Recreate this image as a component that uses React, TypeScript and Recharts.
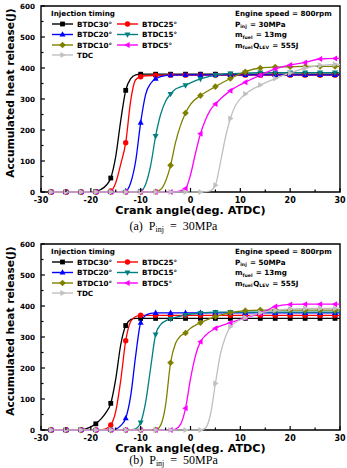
import React from 'react';
import { LineChart, Line, XAxis, YAxis, ReferenceArea, Legend, Label } from 'recharts';

type Pt = [number, number];

// Crank angle (deg. ATDC) vs accumulated heat release (J), injection pressure 30 MPa
const p30Btdc30: Pt[] = [[-28,0],[-25,0],[-22,0],[-20,1],[-19,2],[-18,8],[-17,20],[-16,45],[-15,115],[-14,230],[-13,328],[-12,366],[-11,378],[-10,380],[-7,380],[-4,380],[-1,380],[2,380],[5,380],[8,380],[11,380],[14,380],[17,380],[20,380],[23,380],[26,380],[29,380],[30,380]];
const p30Btdc25: Pt[] = [[-28,0],[-25,0],[-22,0],[-19,0],[-17,1],[-16,3],[-15,30],[-14,90],[-13,159],[-12,295],[-11,362],[-10,372],[-9,375],[-7,376],[-4,377],[-1,377],[2,377],[5,377],[8,377],[11,377],[14,377],[17,377],[20,377],[23,377],[26,377],[29,377],[30,377]];
const p30Btdc20: Pt[] = [[-28,0],[-25,0],[-22,0],[-19,0],[-16,0],[-14,1],[-13,3],[-12,30],[-11,100],[-10,224],[-9,315],[-8,350],[-7,366],[-6,372],[-4,377],[-1,378],[2,378],[5,378],[8,378],[11,378],[14,378],[17,378],[20,378],[23,378],[26,378],[29,378],[30,378]];
const p30Btdc15: Pt[] = [[-28,0],[-25,0],[-22,0],[-19,0],[-16,0],[-13,0],[-11,1],[-10,3],[-9,25],[-8,85],[-7,180],[-6,250],[-5,293],[-4,316],[-3,332],[-2,339],[-1,344],[0,352],[2,365],[5,377],[8,382],[11,384],[14,385],[17,385],[20,385],[23,385],[26,385],[29,385],[30,385]];
const p30Btdc10: Pt[] = [[-28,0],[-25,0],[-22,0],[-19,0],[-16,0],[-13,0],[-10,0],[-7,1],[-6,8],[-5,35],[-4,86],[-3,160],[-2,215],[-1,255],[0,283],[2,311],[5,340],[8,366],[11,388],[14,400],[17,403],[20,404],[23,405],[26,405],[29,405],[30,405]];
const p30Btdc5: Pt[] = [[-28,0],[-25,0],[-22,0],[-19,0],[-16,0],[-13,0],[-10,0],[-7,0],[-4,0],[-3,1],[-2,4],[-1,11],[0,55],[1,125],[2,188],[3,232],[4,265],[5,284],[8,327],[11,354],[14,377],[17,397],[20,410],[23,418],[26,429],[29,431],[30,431]];
const p30Tdc: Pt[] = [[-28,0],[-25,0],[-22,0],[-19,0],[-16,0],[-13,0],[-10,0],[-7,0],[-4,0],[-1,0],[2,0],[3,1],[4,4],[5,22],[6,95],[7,175],[8,237],[9,278],[10,301],[11,316],[14,345],[17,366],[20,384],[23,400],[26,408],[29,412],[30,412]];

// Same quantities, injection pressure 50 MPa
const p50Btdc30: Pt[] = [[-28,0],[-25,0],[-22,1],[-21,4],[-20,10],[-19,20],[-18,35],[-17,55],[-16,86],[-15,165],[-14,275],[-13,337],[-12,356],[-11,360],[-10,360],[-7,360],[-4,360],[-1,360],[2,360],[5,360],[8,360],[11,360],[14,360],[17,360],[20,360],[23,360],[26,360],[29,360],[30,360]];
const p50Btdc25: Pt[] = [[-28,0],[-25,0],[-22,0],[-19,0],[-18,1],[-17,4],[-16,16],[-15,60],[-14,160],[-13,288],[-12,350],[-11,366],[-10,370],[-7,370],[-4,370],[-1,370],[2,370],[5,370],[8,370],[11,370],[14,370],[17,370],[20,370],[23,370],[26,370],[29,370],[30,370]];
const p50Btdc20: Pt[] = [[-28,0],[-25,0],[-22,0],[-19,0],[-16,0],[-15,3],[-14,14],[-13,38],[-12,110],[-11,240],[-10,346],[-9,370],[-8,376],[-7,378],[-4,378],[-1,378],[2,378],[5,378],[8,378],[11,378],[14,378],[17,378],[20,378],[23,378],[26,378],[29,378],[30,378]];
const p50Btdc15: Pt[] = [[-28,0],[-25,0],[-22,0],[-19,0],[-16,0],[-13,0],[-12,1],[-11,4],[-10,24],[-9,90],[-8,200],[-7,308],[-6,340],[-5,352],[-4,358],[-3,363],[-1,371],[2,377],[5,380],[8,380],[11,380],[14,380],[17,380],[20,380],[23,380],[26,380],[29,380],[30,380]];
const p50Btdc10: Pt[] = [[-28,0],[-25,0],[-22,0],[-19,0],[-16,0],[-13,0],[-10,0],[-7,1],[-6,15],[-5,80],[-4,217],[-3,280],[-2,303],[-1,313],[0,328],[2,346],[5,366],[8,378],[11,385],[14,387],[17,387],[20,387],[23,387],[26,387],[29,387],[30,387]];
const p50Btdc5: Pt[] = [[-28,0],[-25,0],[-22,0],[-19,0],[-16,0],[-13,0],[-10,0],[-7,0],[-4,0],[-3,3],[-2,18],[-1,70],[0,165],[1,240],[2,285],[3,305],[5,328],[8,346],[11,362],[14,376],[17,398],[20,405],[23,406],[26,406],[29,406],[30,406]];
const p50Tdc: Pt[] = [[-28,0],[-25,0],[-22,0],[-19,0],[-16,0],[-13,0],[-10,0],[-7,0],[-4,0],[-1,0],[2,0],[3,6],[4,50],[5,150],[6,245],[7,300],[8,333],[9,347],[11,362],[14,378],[17,386],[20,390],[23,392],[26,392],[29,392],[30,392]];

const seriesNames = ['BTDC30°', 'BTDC25°', 'BTDC20°', 'BTDC15°', 'BTDC10°', 'BTDC5°', 'TDC'];
const seriesColors = ['#000000', '#ff0000', '#0000ff', '#008080', '#808000', '#ff00ff', '#c0c0c0'];
const seriesMarkers = ['square', 'circle', 'up', 'down', 'diamond', 'left', 'right'];

const xTicks = [-30, -25, -20, -15, -10, -5, 0, 5, 10, 15, 20, 25, 30];
const yTicks = [0, 50, 100, 150, 200, 250, 300, 350, 400, 450, 500, 550, 600];

// symbols are drawn every 3 degrees, starting at -28
const MARK_START = -28;
const MARK_STEP = 3;

const BOLD = 'DejaVu Sans';

function Marker({ kind, cx, cy, color }: { kind: string; cx: number; cy: number; color: string }) {
  switch (kind) {
    case 'square':
      return <rect x={cx - 2.4} y={cy - 2.4} width={4.8} height={4.8} fill={color} />;
    case 'circle':
      return <circle cx={cx} cy={cy} r={2.7} fill={color} />;
    case 'up':
      return <polygon points={`${cx},${cy - 3.3} ${cx - 3},${cy + 2.1} ${cx + 3},${cy + 2.1}`} fill={color} />;
    case 'down':
      return <polygon points={`${cx},${cy + 3.3} ${cx - 3},${cy - 2.1} ${cx + 3},${cy - 2.1}`} fill={color} />;
    case 'diamond':
      return <polygon points={`${cx},${cy - 3.3} ${cx + 3.3},${cy} ${cx},${cy + 3.3} ${cx - 3.3},${cy}`} fill={color} />;
    case 'left':
      return <polygon points={`${cx - 3.3},${cy} ${cx + 2.1},${cy - 3} ${cx + 2.1},${cy + 3}`} fill={color} />;
    default:
      return <polygon points={`${cx + 3.3},${cy} ${cx - 2.1},${cy - 3} ${cx - 2.1},${cy + 3}`} fill={color} />;
  }
}

const XTick = (props: any) => {
  const { x, y, payload } = props;
  const v = payload.value as number;
  const major = v % 10 === 0;
  return (
    <g>
      <line x1={x} x2={x} y1={y} y2={y - (major ? 4 : 2.5)} stroke="#000" strokeWidth={1.2} />
      {major && (
        <text x={x} y={y + 11} textAnchor="middle" fontSize={8} fontWeight="bold" fontFamily={BOLD} fill="#000">
          {v}
        </text>
      )}
    </g>
  );
};

const YTick = (props: any) => {
  const { x, y, payload } = props;
  const v = payload.value as number;
  const major = v % 100 === 0;
  return (
    <g>
      <line x1={x} x2={x + (major ? 4 : 2.5)} y1={y} y2={y} stroke="#000" strokeWidth={1.2} />
      {major && (
        <text x={x - 6} y={y + 2.6} textAnchor="end" fontSize={7.2} fontWeight="bold" fontFamily={BOLD} fill="#000">
          {v}
        </text>
      )}
    </g>
  );
};

const sub = (t: string) => (
  <>
    <tspan dy={1.8} fontSize={4.6}>{t}</tspan>
    <tspan dy={-1.8}>{'\u200a'}</tspan>
  </>
);

const makeLegend = (pressure: string) => (props: any) => {
  const payload: any[] = props.payload || [];
  const rowY = [24, 34.5, 45, 55];
  const fs = 7.2;
  return (
    <svg width={347} height={70} style={{ display: 'block', overflow: 'visible' }}>
      <text x={51} y={16.3} fontSize={fs} fontWeight="bold" fontFamily={BOLD}>Injection timing</text>
      {payload.map((e: any) => {
        const i = seriesNames.indexOf(e.value);
        if (i < 0) return null;
        const col = i % 2;
        const y = rowY[Math.floor(i / 2)];
        const x0 = col === 0 ? 52 : 117;
        return (
          <g key={e.value}>
            <line x1={x0} x2={x0 + 21} y1={y} y2={y} stroke={seriesColors[i]} strokeWidth={1.4} />
            <Marker kind={seriesMarkers[i]} cx={x0 + 10.5} cy={y} color={seriesColors[i]} />
            <text x={x0 + 25} y={y + 2.6} fontSize={fs} fontWeight="bold" fontFamily={BOLD}>{e.value}</text>
          </g>
        );
      })}
      <g fontSize={fs} fontWeight="bold" fontFamily={BOLD}>
        <text x={235} y={16.3}>Engine speed = 800rpm</text>
        <text x={235} y={26.6}>P{sub('inj')} = {pressure}</text>
        <text x={235} y={37}>m{sub('fuel')} = 13mg</text>
        <text x={235} y={47.5}>m{sub('fuel')}Q{sub('LEV')} = 555J</text>
      </g>
    </svg>
  );
};

function Panel({ series, pressure }: { series: Pt[][]; pressure: string }) {
  return (
    <LineChart width={347} height={230} margin={{ top: 6, right: 7, bottom: 10, left: 11 }}>
      <XAxis
        type="number"
        dataKey="a"
        domain={[-30, 30]}
        ticks={xTicks}
        interval={0}
        tick={XTick}
        tickLine={false}
        tickSize={0}
        tickMargin={0}
        axisLine={false}
        height={28}
      >
        <Label
          content={(p: any) => {
            const vb = p.viewBox || { x: 41, y: 192, width: 299 };
            return (
              <text
                x={vb.x + vb.width / 2}
                y={vb.y + 21.5}
                textAnchor="middle"
                fontSize={11.2}
                fontWeight="bold"
                fontFamily={BOLD}
              >
                Crank angle(deg. ATDC)
              </text>
            );
          }}
        />
      </XAxis>
      <YAxis
        type="number"
        domain={[0, 600]}
        ticks={yTicks}
        interval={0}
        tick={YTick}
        tickLine={false}
        tickSize={0}
        tickMargin={0}
        axisLine={false}
        width={30}
      >
        <Label
          content={() => (
            <text
              x={13.5}
              y={93}
              transform="rotate(-90 13.5 93)"
              textAnchor="middle"
              fontSize={10.6}
              fontWeight="bold"
              fontFamily={BOLD}
            >
              Accumulated heat release(J)
            </text>
          )}
        />
      </YAxis>
      <ReferenceArea x1={-30} x2={30} y1={0} y2={600} fill="none" stroke="#000" strokeWidth={1.4} />
      {series.map((pts, i) => (
        <Line
          key={seriesNames[i]}
          name={seriesNames[i]}
          data={pts.map(([a, v]) => ({ a, v }))}
          dataKey="v"
          type="monotone"
          stroke={seriesColors[i]}
          strokeWidth={1.3}
          isAnimationActive={false}
          dot={(p: any) => {
            const a = p.payload?.a as number;
            const onGrid = (a - MARK_START) % MARK_STEP === 0;
            if (!onGrid || p.cx == null || p.cy == null) return <g key={`d${i}-${p.index}`} />;
            return (
              <g key={`d${i}-${p.index}`}>
                <Marker kind={seriesMarkers[i]} cx={p.cx} cy={p.cy} color={seriesColors[i]} />
              </g>
            );
          }}
          activeDot={false}
        />
      ))}
      <Legend
        layout="horizontal"
        verticalAlign="middle"
        align="center"
        content={makeLegend(pressure)}
        wrapperStyle={{ position: 'absolute', left: 0, top: 0, width: 347, height: 70, pointerEvents: 'none' }}
      />
    </LineChart>
  );
}

const captionStyle: React.CSSProperties = {
  position: 'absolute',
  left: 0,
  width: 347,
  textAlign: 'center',
  fontFamily: '"Liberation Serif", serif',
  fontSize: 12,
  lineHeight: '14px',
  whiteSpace: 'pre',
  color: '#000',
};

const subStyle: React.CSSProperties = { fontSize: 8, verticalAlign: '-2px', lineHeight: 0 };

export default function App() {
  return (
    <div style={{ position: 'absolute', left: 0, top: 0, width: 347, height: 468, background: '#fff', overflow: 'hidden' }}>
      <div style={{ position: 'absolute', left: 0, top: 0 }}>
        <Panel series={[p30Btdc30, p30Btdc25, p30Btdc20, p30Btdc15, p30Btdc10, p30Btdc5, p30Tdc]} pressure="30MPa" />
      </div>
      <div style={{ ...captionStyle, top: 219 }}>
        {'(a)  P'}<span style={subStyle}>inj</span>{'  =  30MPa'}
      </div>
      <div style={{ position: 'absolute', left: 0, top: 238 }}>
        <Panel series={[p50Btdc30, p50Btdc25, p50Btdc20, p50Btdc15, p50Btdc10, p50Btdc5, p50Tdc]} pressure="50MPa" />
      </div>
      <div style={{ ...captionStyle, top: 453 }}>
        {'(b)  P'}<span style={subStyle}>inj</span>{'  =  50MPa'}
      </div>
    </div>
  );
}
